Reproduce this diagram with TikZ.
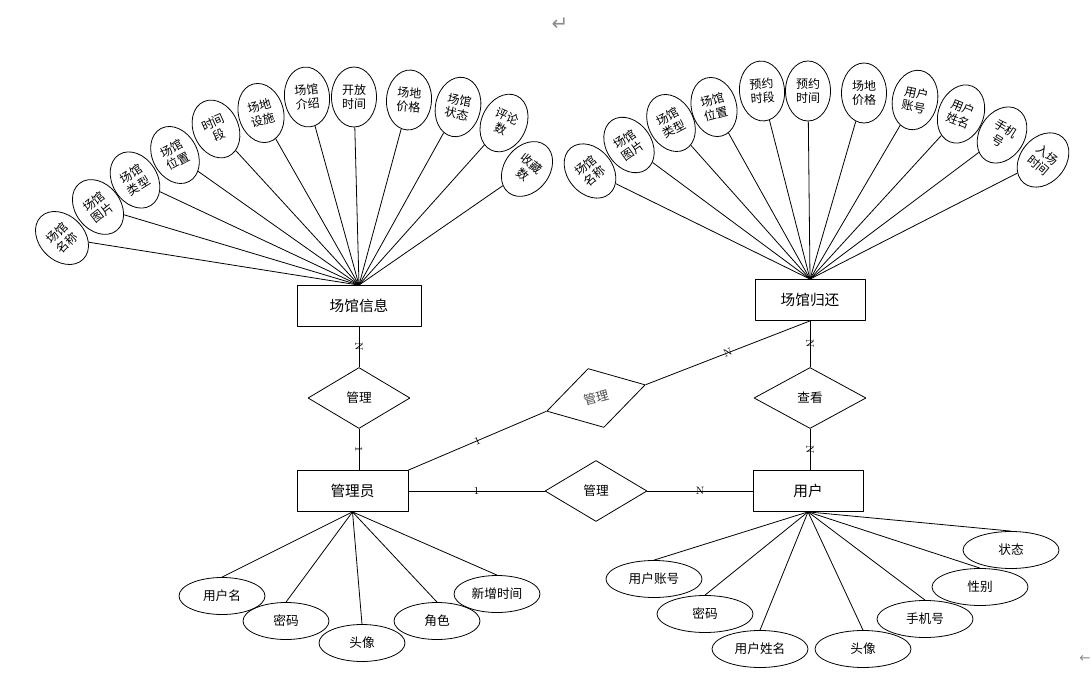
\documentclass[tikz,border=0pt]{standalone}
\usepackage{fontspec}
\usepackage{tikz}
\usetikzlibrary{shapes.geometric,positioning}
\newfontfamily\cjk{Noto Sans CJK SC}
\newfontfamily\symfont{DejaVu Sans}

\begin{document}
\begin{tikzpicture}[
    x=0.75pt, y=-0.75pt,
    line width=0.6pt, line join=round,
    entity/.style={draw, rectangle, minimum height=30.75pt,
      font=\cjk\fontsize{11}{13}\selectfont},
    rel/.style={draw, diamond, inner sep=0pt, minimum width=76.5pt,
      minimum height=45.75pt, font=\cjk\fontsize{9.5}{11}\selectfont},
    attr/.style={draw, ellipse, inner sep=0pt, minimum width=33.75pt,
      minimum height=45pt, align=center,
      font=\cjk\fontsize{9}{10.5}\selectfont},
    flat/.style={draw, ellipse, inner sep=0pt, minimum height=27.75pt,
      font=\cjk\fontsize{9.5}{11}\selectfont},
    card/.style={sloped, inner sep=1pt, font=\fontsize{8}{9}\selectfont},
    pmark/.style={text=black!45, font=\symfont\fontsize{15}{16}\selectfont}
  ]

  \useasboundingbox (0,0) rectangle (1092,684);

  % ------------------ Entities ------------------
  \node[entity, minimum width=93pt]   (info)  at (359,306)   {场馆信息};
  \node[entity, minimum width=83.25pt] (admin) at (352.5,491) {管理员};
  \node[entity, minimum width=82.5pt] (ret)   at (810,300)   {场馆归还};
  \node[entity, minimum width=82.5pt] (user)  at (808,491)   {用户};

  % ------------------ Relations ------------------
  \node[rel] (mgA) at (359,398) {管理};
  \node[rel, rotate=15, text=black!70] (mgB) at (596,398) {管理};
  \node[rel] (mgC) at (596,491) {管理};
  \node[rel, minimum width=84pt] (chk) at (810,398) {查看};

  \draw (info.south) -- node[card] {N} (mgA.north);
  \draw (mgA.south) -- node[card] {1} (mgA.south |- admin.north);
  \draw (admin.east) -- node[card] {1} (mgC.west);
  \draw (mgC.east) -- node[card] {N} (user.west);
  \draw (admin.north east) -- node[card] {1} (mgB.west);
  \draw (mgB.east) -- node[card] {N} (ret.south);
  \draw (ret.south) -- node[card] {N} (chk.north);
  \draw (chk.south) -- node[card] {N} (chk.south |- user.north);

  % ------------------ Venue info attributes ------------------
  \foreach \n/\px/\py/\ang/\txt in {
      v1/62/238/45/{场馆\\名称}, v2/98/207/38/{场馆\\图片},
      v3/135/180/32/{场馆\\类型}, v4/175/155/28/{场馆\\位置},
      v5/216/129/24/{时间\\段}, v6/261/113/15/{场地\\设施},
      v7/307/97/6/{场馆\\介绍}, v8/354/97/0/{开放\\时间},
      v9/409/100/-4/{场地\\价格}, v10/458/107/-12/{场馆\\状态},
      v11/504/123/-25/{评论\\数}, v12/527/169/-38/{收藏\\数}} {
    \node[attr, rotate=\ang] (\n) at (\px,\py) {\txt};
    \draw (\n) -- (info.north);
  }

  % ------------------ Return attributes ------------------
  \foreach \n/\px/\py/\ang/\txt in {
      r1/590/171/40/{场馆\\名称}, r2/629/145/35/{场馆\\图片},
      r3/671/123/28/{场馆\\类型}, r4/714/107/15/{场馆\\位置},
      r5/762/91/5/{预约\\时段}, r6/808/91/0/{预约\\时间},
      r7/864/93/0/{场地\\价格}, r8/915/100/-12/{用户\\账号},
      r9/961/114/-22/{用户\\姓名}, r10/1002/135/-32/{手机\\号},
      r11/1043/160/-40/{入场\\时间}} {
    \node[attr, rotate=\ang] (\n) at (\px,\py) {\txt};
    \draw (\n) -- (ret.north);
  }

  % ------------------ Admin attributes ------------------
  \foreach \n/\px/\py/\txt in {
      m1/222/596/用户名, m2/286/621/密码, m3/362/643/头像,
      m4/437/621/角色, m5/497/594/新增时间} {
    \node[flat, minimum width=64.5pt] (\n) at (\px,\py) {\txt};
    \draw (admin.south) -- (\n.north);
  }

  % ------------------ User attributes ------------------
  \foreach \n/\px/\py/\txt in {
      u1/654/579/用户账号, u2/705/614/密码, u3/760/649/用户姓名,
      u4/863/649/头像, u5/925/619/手机号, u6/980/587/性别,
      u7/1011/550/状态} {
    \node[flat, minimum width=72pt] (\n) at (\px,\py) {\txt};
    \draw (user.south) -- (\n.north);
  }

  % ------------------ Paragraph marks ------------------
  \node[pmark] (pmA) at (560,24) {↵};
  \node[pmark, anchor=east, inner sep=0pt,
    font=\symfont\fontsize{10}{11}\selectfont] (pmB) at (1091,659) {←};

\end{tikzpicture}
\end{document}
